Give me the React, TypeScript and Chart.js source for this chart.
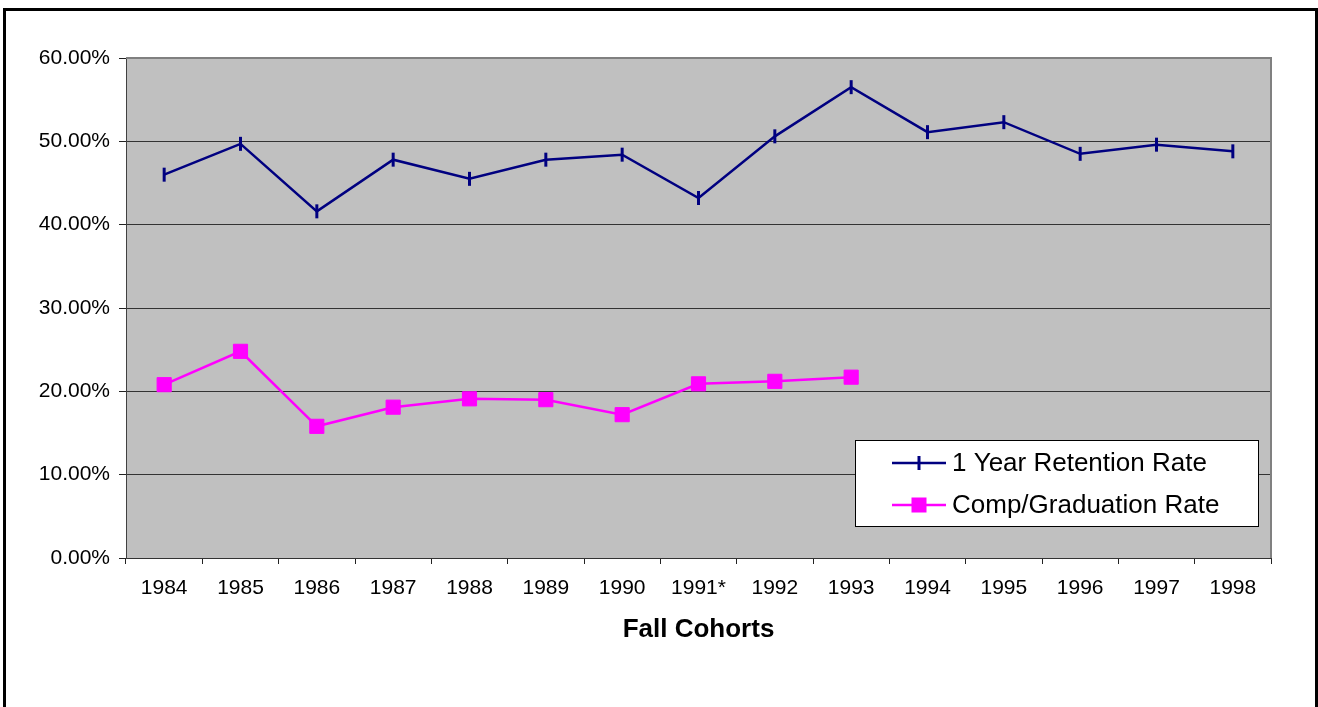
import React, { useEffect, useRef } from 'react';
import { Chart, registerables } from 'chart.js';

Chart.register(...registerables);

const COHORTS = ['1984', '1985', '1986', '1987', '1988', '1989', '1990', '1991*', '1992', '1993', '1994', '1995', '1996', '1997', '1998'];
const RETENTION = [46.0, 49.7, 41.6, 47.8, 45.5, 47.8, 48.4, 43.2, 50.6, 56.5, 51.1, 52.3, 48.5, 49.6, 48.8];
const GRADUATION = [20.8, 24.8, 15.8, 18.1, 19.1, 19.0, 17.2, 20.9, 21.2, 21.7, null, null, null, null, null];
const SERIES_LABELS = ['1 Year Retention Rate', 'Comp/Graduation Rate'];
const AXIS_TITLE = 'Fall Cohorts';
const Y_MIN = 0;
const Y_MAX = 60;
const Y_STEP = 10;

const FONT = 'Arial, "Liberation Sans", sans-serif';

const framePlugin = {
  id: 'frame',
  beforeDraw(chart: any) {
    const { ctx, chartArea: a } = chart;
    ctx.save();
    ctx.fillStyle = '#ffffff';
    ctx.fillRect(0, 0, chart.width, chart.height);
    ctx.fillStyle = '#000000';
    ctx.fillRect(3, 8, chart.width - 3, 3);
    ctx.fillRect(3, 8, 3, chart.height);
    ctx.fillRect(chart.width - 3, 8, 3, chart.height);
    ctx.fillStyle = '#C0C0C0';
    ctx.fillRect(a.left, a.top, a.right - a.left, a.bottom - a.top);
    ctx.restore();
  },
  beforeDatasetsDraw(chart: any) {
    const { ctx, chartArea: a } = chart;
    ctx.save();
    ctx.strokeStyle = '#808080';
    ctx.lineWidth = 2;
    ctx.beginPath();
    ctx.moveTo(a.left, a.top);
    ctx.lineTo(a.right, a.top);
    ctx.lineTo(a.right, a.bottom);
    ctx.stroke();
    ctx.restore();
  },
  afterDraw(chart: any) {
    const { ctx, chartArea: a } = chart;
    const ds = chart.data.datasets;
    const boxW = 403;
    const boxH = 86;
    const bx = a.right - 13 - boxW;
    const by = a.bottom - 32 - boxH;
    ctx.save();
    ctx.fillStyle = '#ffffff';
    ctx.fillRect(bx, by, boxW, boxH);
    ctx.strokeStyle = '#000000';
    ctx.lineWidth = 1;
    ctx.strokeRect(bx + 0.5, by + 0.5, boxW, boxH);
    const rows = [by + 23, by + 65];
    const lx0 = bx + 37;
    const lx1 = bx + 91;
    const mx = bx + 64;
    ds.forEach((d: any, i: number) => {
      const y = rows[i];
      ctx.strokeStyle = d.borderColor;
      ctx.lineWidth = 2.5;
      ctx.beginPath();
      ctx.moveTo(lx0, y);
      ctx.lineTo(lx1, y);
      ctx.stroke();
      if (i === 0) {
        ctx.lineWidth = 3;
        ctx.beginPath();
        ctx.moveTo(mx, y - 7);
        ctx.lineTo(mx, y + 7);
        ctx.stroke();
      } else {
        ctx.fillStyle = d.pointBackgroundColor;
        ctx.fillRect(mx - 7.5, y - 7.5, 15, 15);
      }
      ctx.fillStyle = '#000000';
      ctx.font = `26px ${FONT}`;
      ctx.textAlign = 'left';
      ctx.textBaseline = 'middle';
      ctx.fillText(d.label, bx + 97, y + 1);
    });
    ctx.restore();
  },
};

export default function App() {
  const ref = useRef<HTMLCanvasElement>(null);

  useEffect(() => {
    if (!ref.current) return;
    const chart = new Chart(ref.current, {
      type: 'line',
      data: {
        labels: COHORTS,
        datasets: [
          {
            label: SERIES_LABELS[0],
            data: RETENTION,
            borderColor: '#000080',
            backgroundColor: '#000080',
            borderWidth: 2.5,
            pointStyle: 'line',
            pointRotation: 90,
            pointRadius: 7,
            pointBorderWidth: 3,
            pointBorderColor: '#000080',
            pointBackgroundColor: '#000080',
            tension: 0,
            fill: false,
          },
          {
            label: SERIES_LABELS[1],
            data: GRADUATION,
            borderColor: '#FF00FF',
            backgroundColor: '#FF00FF',
            borderWidth: 2.5,
            pointStyle: 'rect',
            pointRadius: 10,
            pointBorderWidth: 1,
            pointBorderColor: '#FF00FF',
            pointBackgroundColor: '#FF00FF',
            tension: 0,
            fill: false,
            spanGaps: false,
          },
        ],
      } as any,
      options: {
        animation: false,
        responsive: false,
        devicePixelRatio: 1,
        layout: { padding: { top: 58, right: 47, left: 0, bottom: 0 } },
        plugins: {
          legend: { display: false },
          tooltip: { enabled: false },
        },
        scales: {
          x: {
            type: 'category',
            offset: true,
            grid: {
              display: true,
              drawOnChartArea: false,
              drawTicks: true,
              tickLength: 6,
              offset: true,
              color: '#222222',
              tickColor: '#222222',
            },
            border: { display: true, color: '#333333', width: 1 },
            ticks: {
              color: '#000000',
              font: { family: FONT, size: 21 },
              padding: 12,
              autoSkip: false,
              maxRotation: 0,
              minRotation: 0,
            },
            title: {
              display: true,
              text: AXIS_TITLE,
              color: '#000000',
              font: { family: FONT, size: 26, weight: 'bold' },
              padding: { top: 0, bottom: 62 },
            },
            afterFit(scale: any) {
              scale.height = 149;
            },
          },
          y: {
            min: Y_MIN,
            max: Y_MAX,
            grid: {
              display: true,
              drawOnChartArea: true,
              drawTicks: true,
              tickLength: 7,
              color: '#333333',
              tickColor: '#222222',
              lineWidth: 1,
            },
            border: { display: true, color: '#404040', width: 1 },
            ticks: {
              stepSize: Y_STEP,
              color: '#000000',
              font: { family: FONT, size: 21 },
              padding: 9,
              callback: (v: any) => `${Number(v).toFixed(2)}%`,
            },
            afterFit(scale: any) {
              scale.width = 126;
            },
          },
        },
      } as any,
      plugins: [framePlugin],
    });
    return () => chart.destroy();
  }, []);

  return (
    <div style={{ position: 'fixed', left: 0, top: 0, width: 1318, height: 707, background: '#ffffff' }}>
      <canvas ref={ref} width={1318} height={707} style={{ display: 'block', width: 1318, height: 707 }} />
    </div>
  );
}
